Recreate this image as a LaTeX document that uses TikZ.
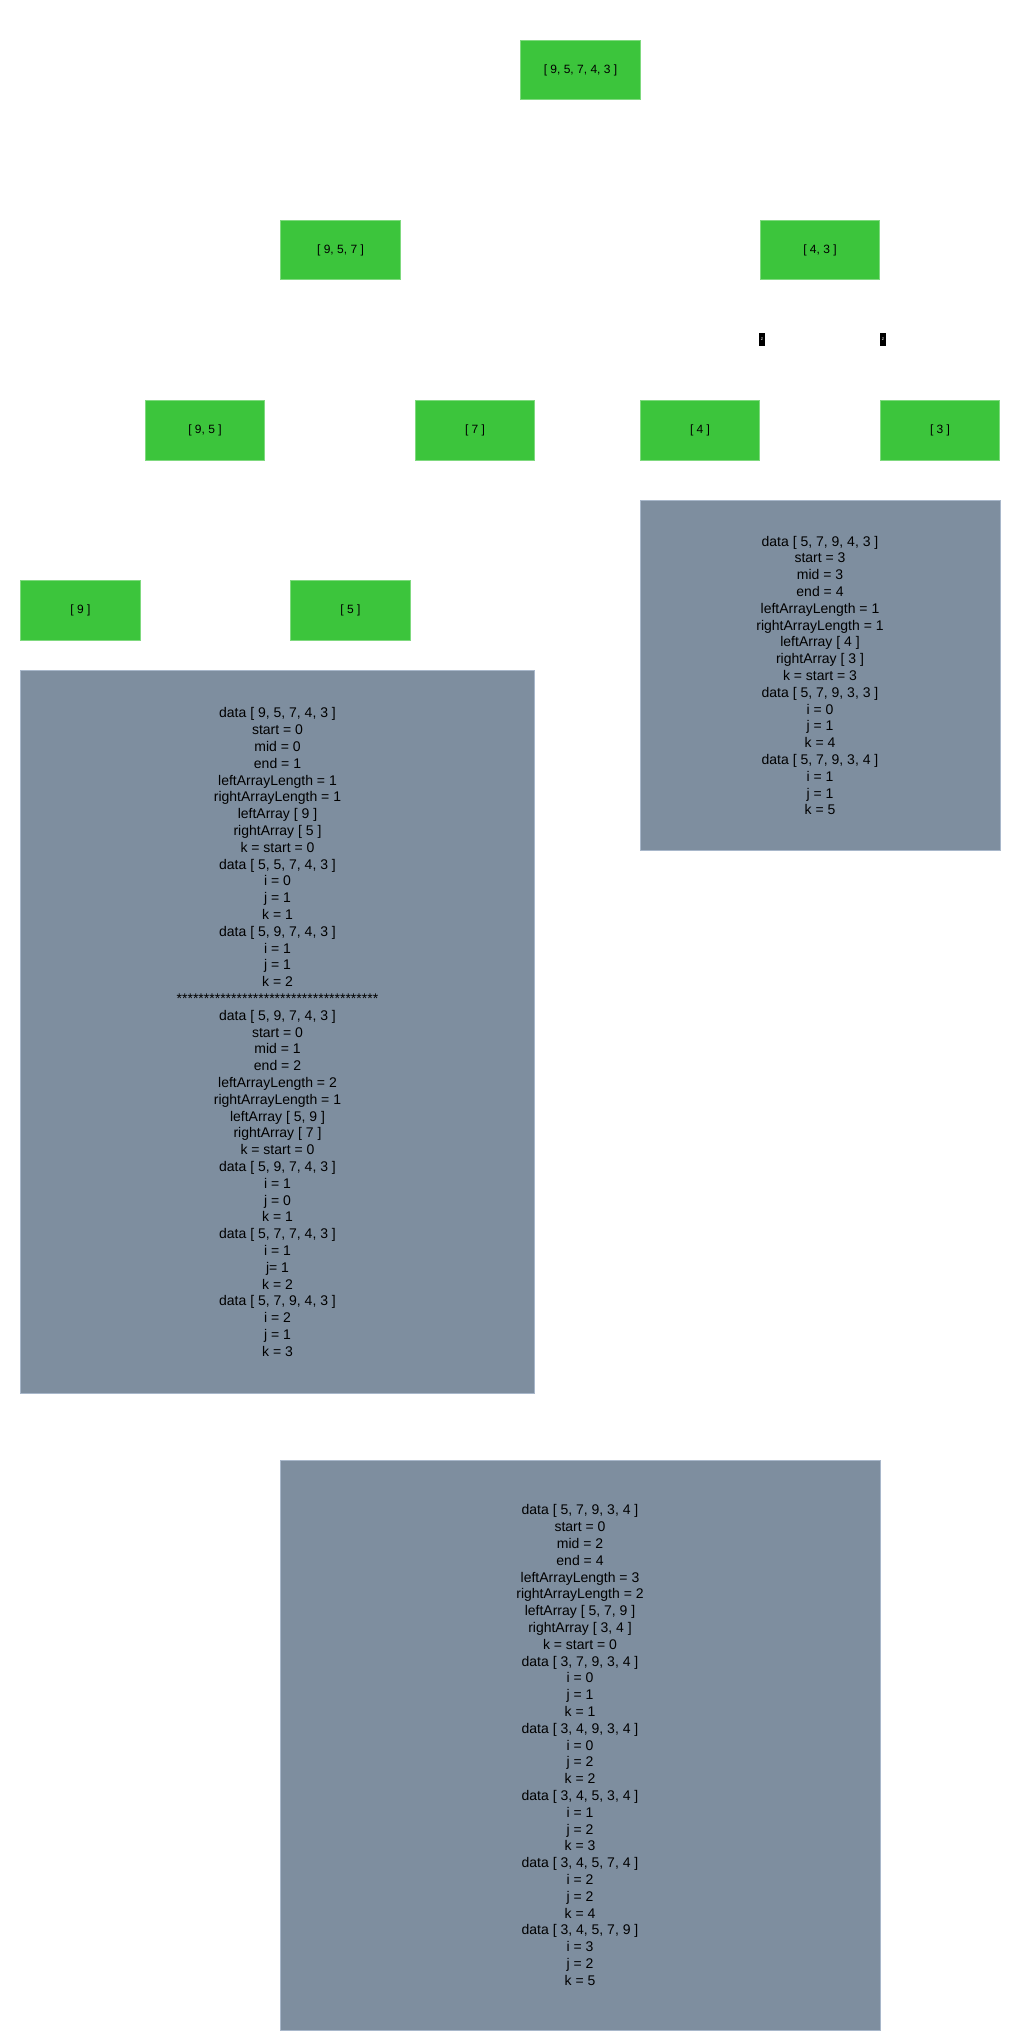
\documentclass[tikz,border=0pt]{standalone}
\usepackage{fontspec}
\setmainfont{Liberation Sans}
\usetikzlibrary{backgrounds}
\definecolor{gfill}{HTML}{3CC53C}
\definecolor{gline}{HTML}{7FD97F}
\definecolor{bfill}{HTML}{7E8E9F}
\definecolor{bline}{HTML}{A8B7CA}
\tikzset{
  arr/.style={fill=gfill, draw=gline, line width=0.75pt, minimum width=89.5pt, minimum height=44.5pt, inner sep=0pt, font=\fontsize{9}{10}\selectfont, text=black},
  info/.style={fill=bfill, draw=bline, line width=0.75pt, inner sep=0pt, align=center, font=\fontsize{10.5}{12.6}\selectfont, text=black},
  edge/.style={draw=white, line width=1.5pt},
  zlab/.style={fill=black, text=white, inner sep=0pt, minimum width=3.8pt, minimum height=9.5pt, font=\fontsize{3.5}{3.5}\selectfont}
}
\begin{document}
\begin{tikzpicture}[x=0.75pt, y=-0.75pt]
\begin{scope}[on background layer]
\fill[white] (0,0) rectangle (1030,2039);
\end{scope}
\useasboundingbox (0,0) rectangle (1030,2039);

\node[arr] (root) at (580.5,70) {[ 9, 5, 7, 4, 3 ]};
\node[arr] (n957) at (340.5,250) {[ 9, 5, 7 ]};
\node[arr] (n43) at (820,250) {[ 4, 3 ]};
\node[arr] (n95) at (205,430.5) {[ 9, 5 ]};
\node[arr] (n7) at (475,430.5) {[ 7 ]};
\node[arr] (n4) at (700,430.5) {[ 4 ]};
\node[arr] (n3) at (940,430.5) {[ 3 ]};
\node[arr] (n9) at (80.5,610.5) {[ 9 ]};
\node[arr] (n5) at (350.5,610.5) {[ 5 ]};

\begin{scope}[on background layer]
\draw[edge] (root.south) -- (n957.north);
\draw[edge] (root.south) -- (n43.north);
\draw[edge] (n957.south) -- (n95.north);
\draw[edge] (n957.south) -- (n7.north);
\draw[edge] (n95.south) -- (n9.north);
\draw[edge] (n95.south) -- (n5.north);
\draw[edge] (n43.south) -- (n4.north);
\draw[edge] (n43.south) -- (n3.north);
\end{scope}

\node[zlab] (z1) at (762,339.5) {z};
\node[zlab] (z2) at (883,339.5) {z};

\node[info, minimum width=386pt, minimum height=542.5pt] (boxL) at (277.5,1032) {%
data [ 9, 5, 7, 4, 3 ]\\
start = 0\\
mid = 0\\
end = 1\\
leftArrayLength = 1\\
rightArrayLength = 1\\
leftArray [ 9 ]\\
rightArray [ 5 ]\\
k = start = 0\\
data [ 5, 5, 7, 4, 3 ]\\
i = 0\\
j = 1\\
k = 1\\
data [ 5, 9, 7, 4, 3 ]\\
i = 1\\
j = 1\\
k = 2\\
*************************************\\
data [ 5, 9, 7, 4, 3 ]\\
start = 0\\
mid = 1\\
end = 2\\
leftArrayLength = 2\\
rightArrayLength = 1\\
leftArray [ 5, 9 ]\\
rightArray [ 7 ]\\
k = start = 0\\
data [ 5, 9, 7, 4, 3 ]\\
i = 1\\
j = 0\\
k = 1\\
data [ 5, 7, 7, 4, 3 ]\\
i = 1\\
j= 1\\
k = 2\\
data [ 5, 7, 9, 4, 3 ]\\
i = 2\\
j = 1\\
k = 3};

\node[info, minimum width=270pt, minimum height=263pt] (boxR) at (820,675.5) {%
data [ 5, 7, 9, 4, 3 ]\\
start = 3\\
mid = 3\\
end = 4\\
leftArrayLength = 1\\
rightArrayLength = 1\\
leftArray [ 4 ]\\
rightArray [ 3 ]\\
k = start = 3\\
data [ 5, 7, 9, 3, 3 ]\\
i = 0\\
j = 1\\
k = 4\\
data [ 5, 7, 9, 3, 4 ]\\
i = 1\\
j = 1\\
k = 5};

\node[info, minimum width=450pt, minimum height=427.5pt] (boxB) at (580,1745) {%
data [ 5, 7, 9, 3, 4 ]\\
start = 0\\
mid = 2\\
end = 4\\
leftArrayLength = 3\\
rightArrayLength = 2\\
leftArray [ 5, 7, 9 ]\\
rightArray [ 3, 4 ]\\
k = start = 0\\
data [ 3, 7, 9, 3, 4 ]\\
i = 0\\
j = 1\\
k = 1\\
data [ 3, 4, 9, 3, 4 ]\\
i = 0\\
j = 2\\
k = 2\\
data [ 3, 4, 5, 3, 4 ]\\
i = 1\\
j = 2\\
k = 3\\
data [ 3, 4, 5, 7, 4 ]\\
i = 2\\
j = 2\\
k = 4\\
data [ 3, 4, 5, 7, 9 ]\\
i = 3\\
j = 2\\
k = 5};
\end{tikzpicture}
\end{document}
